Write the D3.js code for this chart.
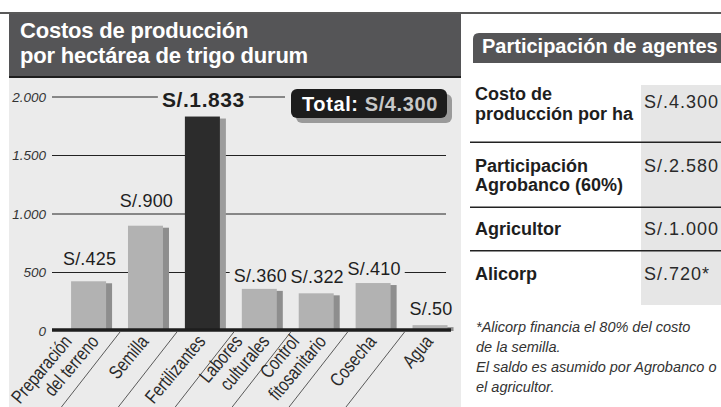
<!doctype html>
<html lang="es">
<head>
<meta charset="utf-8">
<title>Costos de producción por hectárea de trigo durum</title>
<script src="https://d3js.org/d3.v7.min.js"></script>
<style>
  body { margin: 0; background: #fff; }
  svg { display: block; font-family: "Liberation Sans", Arial, sans-serif; }
</style>
</head>
<body>
<svg id="svg" width="721" height="407"></svg>
<script>
// --- data ---
const categories = ["Preparación del terreno", "Semilla", "Fertilizantes", "Labores culturales",
                    "Control fitosanitario", "Cosecha", "Agua"];
const categoryLines = [["Preparación", "del terreno"], ["Semilla"], ["Fertilizantes"],
                       ["Labores", "culturales"], ["Control", "fitosanitario"], ["Cosecha"], ["Agua"]];
const costs = [425, 900, 1833, 360, 322, 410, 50];
const costLabels = ["S/.425", "S/.900", "S/.1.833", "S/.360", "S/.322", "S/.410", "S/.50"];
const highlight = "Fertilizantes";
const yTicks = [0, 500, 1000, 1500, 2000];
const yTickLabels = ["0", "500", "1.000", "1.500", "2.000"];
const totalText = "Total: ";
const totalValue = "S/4.300";

const agentNames = [["Costo de", "producción por ha"], ["Participación", "Agrobanco (60%)"],
                    ["Agricultor"], ["Alicorp"]];
const agentValues = ["S/.4.300", "S/.2.580", "S/.1.000", "S/.720*"];
const footnote = ["*Alicorp financia el 80% del costo", "de la semilla.",
                  "El saldo es asumido por Agrobanco o", "el agricultor."];

// --- layout ---
const panelBg = "#ebebeb";
const labelGap = [16, 19, 10, 7, 10, 8, 10]; // how far each value label sits above its bar
const nameBaselines = [[100, 119.5], [171.5, 190.5], [235], [279.5]];
const valueBaselines = [108, 171.5, 235, 279.5];
const rowRules = [142.3, 207.3, 250.7];

const svg = d3.select("#svg");

const xScale = d3.scaleBand().domain(categories).range([54, 464.6]).paddingInner(0.385).paddingOuter(0.3);
const yScale = d3.scaleLinear().domain([0, 2000]).range([331, 97]);

// header + panel
svg.append("line").attr("x1", 0).attr("x2", 721).attr("y1", 13).attr("y2", 13)
    .attr("stroke", "#222").attr("stroke-width", 1.5);
svg.append("rect").attr("x", 9).attr("y", 14).attr("width", 452).attr("height", 62).attr("fill", "#555557");
svg.append("rect").attr("x", 9).attr("y", 76).attr("width", 452).attr("height", 2).attr("fill", "#1e1e1e");
svg.append("rect").attr("x", 9).attr("y", 78).attr("width", 452).attr("height", 329).attr("fill", panelBg);

svg.selectAll("text.title")
    .data(["Costos de producción", "por hectárea de trigo durum"])
    .join("text")
    .attr("class", "title")
    .attr("x", 20)
    .attr("y", (d, i) => 38 + i * 25)
    .attr("fill", "#fff")
    .attr("font-size", 22)
    .attr("font-weight", "bold")
    .attr("letter-spacing", -0.2)
    .text(d => d);

// grid lines + tick labels
const grid = svg.append("g");
grid.selectAll("line")
    .data(yTicks.filter(t => t > 0))
    .join("line")
    .attr("x1", 52).attr("x2", 446)
    .attr("y1", d => yScale(d)).attr("y2", d => yScale(d))
    .attr("stroke", "#222").attr("stroke-width", 1);

grid.selectAll("text")
    .data(yTicks)
    .join("text")
    .attr("x", 46)
    .attr("y", d => yScale(d) + 4.5)
    .attr("text-anchor", "end")
    .attr("font-size", 13.5)
    .attr("font-style", "italic")
    .attr("fill", "#333")
    .text((d, i) => yTickLabels[i]);

// total box
const total = svg.append("g");
total.append("rect").attr("x", 285).attr("y", 86).attr("width", 170).attr("height", 40).attr("fill", panelBg);
total.append("rect").attr("x", 296).attr("y", 94).attr("width", 156).attr("height", 29).attr("rx", 6).attr("fill", "#9a9a9a");
total.append("rect").attr("x", 291).attr("y", 89).attr("width", 156).attr("height", 29).attr("rx", 6).attr("fill", "#1c1c1c");
const tt = total.append("text").attr("x", 302).attr("y", 111)
    .attr("font-size", 20).attr("font-weight", "bold").attr("letter-spacing", 0.6);
tt.append("tspan").attr("fill", "#fff").text(totalText);
tt.append("tspan").attr("fill", "#c8c8c8").text(totalValue);

// bars (shadow first)
const bw = xScale.bandwidth();
const bars = svg.append("g");
bars.selectAll("rect.shadow")
    .data(costs)
    .join("rect")
    .attr("class", "shadow")
    .attr("x", (d, i) => xScale(categories[i]) + 6)
    .attr("y", d => yScale(d) + 2)
    .attr("width", bw)
    .attr("height", d => yScale(0) - yScale(d) - 2)
    .attr("fill", (d, i) => categories[i] === highlight ? "#9c9c9c" : "#8e8e8e");

bars.selectAll("rect.bar")
    .data(costs)
    .join("rect")
    .attr("class", "bar")
    .attr("x", (d, i) => xScale(categories[i]))
    .attr("y", d => yScale(d))
    .attr("width", bw)
    .attr("height", d => yScale(0) - yScale(d))
    .attr("fill", (d, i) => categories[i] === highlight ? "#2c2c2c" : "#b2b2b2");

// zero line
svg.append("line").attr("x1", 52).attr("x2", 451).attr("y1", 330).attr("y2", 330)
    .attr("stroke", "#1e1e1e").attr("stroke-width", 3.5);

// value labels, each on a small panel-coloured patch that cuts the grid line
const labels = svg.append("g");
costs.forEach((v, i) => {
    const g = labels.append("g");
    const isHi = categories[i] === highlight;
    const t = g.append("text")
        .attr("x", xScale(categories[i]) + bw / 2 + 1)
        .attr("y", yScale(v) - labelGap[i])
        .attr("text-anchor", "middle")
        .attr("font-size", isHi ? 21 : 18)
        .attr("font-weight", isHi ? "bold" : "normal")
        .attr("letter-spacing", isHi ? 0.6 : 0.2)
        .attr("fill", "#1e1e1e")
        .text(costLabels[i]);
    const b = t.node().getBBox();
    g.insert("rect", "text")
        .attr("x", b.x - 4).attr("y", b.y)
        .attr("width", b.width + 8).attr("height", b.height)
        .attr("fill", panelBg);
});

// category labels + diagonal separators
const angle = 50;
const slope = Math.tan(52 * Math.PI / 180);
const axisG = svg.append("g");
axisG.selectAll("line")
    .data(categories.slice(0, -1))
    .join("line")
    .attr("x1", d => xScale(d) + (bw + 6 + xScale.step()) / 2)
    .attr("y1", 332)
    .attr("x2", d => xScale(d) + (bw + 6 + xScale.step()) / 2 - (407 - 332) / slope)
    .attr("y2", 407)
    .attr("stroke", "#333").attr("stroke-width", 0.8);

// no condensed face is installed, so squeeze the regular one horizontally
categories.forEach((c, i) => {
    const lines = categoryLines[i];
    const cx = xScale(c) + bw / 2;
    lines.forEach((s, j) => {
        const ax = cx + (lines.length === 1 ? 4 : (j === 0 ? -16 : 11));
        const ay = 342;
        axisG.append("text")
            .attr("transform", `translate(${ax}, ${ay}) rotate(${-angle}) scale(0.8, 1)`)
            .attr("text-anchor", "end")
            .attr("font-size", 19)
            .attr("fill", "#2a2a2a")
            .text(s);
    });
});

// --- side table ---
const side = svg.append("g");
side.append("path")
    .attr("d", "M473,63 V39 Q473,33 479,33 H725 V63 Z")
    .attr("fill", "#555557");
side.append("text").attr("x", 482).attr("y", 53)
    .attr("font-size", 20).attr("font-weight", "bold").attr("fill", "#fff")
    .text("Participación de agentes");

side.append("rect").attr("x", 641).attr("y", 85).attr("width", 85).attr("height", 220).attr("fill", "#e6e6e6");

side.selectAll("line")
    .data(rowRules)
    .join("line")
    .attr("x1", 470).attr("x2", 721)
    .attr("y1", d => d).attr("y2", d => d)
    .attr("stroke", "#222").attr("stroke-width", 1.5);

agentNames.forEach((lines, i) => {
    lines.forEach((s, j) => {
        side.append("text")
            .attr("x", 475).attr("y", nameBaselines[i][j])
            .attr("font-size", 18).attr("font-weight", "bold").attr("fill", "#1e1e1e")
            .text(s);
    });
});

side.selectAll("text.value")
    .data(agentValues)
    .join("text")
    .attr("class", "value")
    .attr("x", 644)
    .attr("y", (d, i) => valueBaselines[i])
    .attr("font-size", 18)
    .attr("letter-spacing", 1)
    .attr("fill", "#2a2a2a")
    .text(d => d);

side.selectAll("text.note")
    .data(footnote)
    .join("text")
    .attr("class", "note")
    .attr("x", 476)
    .attr("y", (d, i) => 332 + i * 20)
    .attr("font-size", 14.5)
    .attr("font-style", "italic")
    .attr("fill", "#333")
    .text(d => d);
</script>
</body>
</html>
